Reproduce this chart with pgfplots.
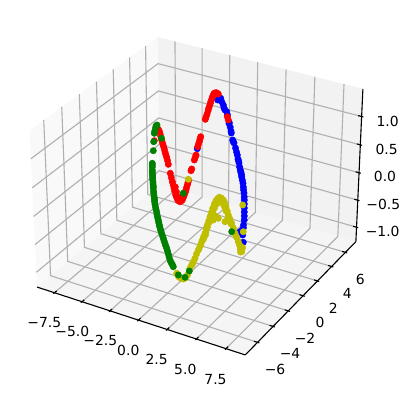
\documentclass[border=0pt]{standalone}
\usepackage{pgfplots}
\pgfplotsset{compat=1.18}
\usepackage{fontspec}
\setmainfont{DejaVu Sans}
\definecolor{gridc}{rgb}{0.69,0.69,0.69}
\definecolor{paneL}{HTML}{F9F9F9}
\definecolor{paneB}{HTML}{F2F2F2}
\definecolor{paneF}{HTML}{F5F5F5}
\definecolor{cR}{HTML}{FF0000}
\definecolor{cG}{HTML}{008000}
\definecolor{cB}{HTML}{0000FF}
\definecolor{cY}{HTML}{BFBF00}
\newcommand{\seg}[2]{\addplot[#1] table[row sep=\\,x expr={prjx(\thisrow{X},\thisrow{Y},\thisrow{Z})},y expr={prjy(\thisrow{X},\thisrow{Y},\thisrow{Z})}] {X Y Z\\ #2\\};}
\newcommand{\tl}[3]{\node[font=\fontsize{13.9}{16}\selectfont,text=black,inner sep=0pt,anchor=center] at (axis cs:#1,#2) {#3};}
\begin{document}
\begin{tikzpicture}[declare function={
ux(\x)=0.5952*\x/9.1;
uy(\y)=0.5952*\y/7.55;
uz(\z)=0.4464*(\z-0.105)/1.375;
prjd(\x,\y,\z)=10-(0.433*ux(\x)-0.75*uy(\y)+0.5*uz(\z));
prjx(\x,\y,\z)=199.4+2004*(0.866*ux(\x)+0.5*uy(\y))/prjd(\x,\y,\z);
prjy(\x,\y,\z)=188.3-2000*(-0.25*ux(\x)+0.433*uy(\y)+0.866*uz(\z))/prjd(\x,\y,\z);
}]
\useasboundingbox (0,0) rectangle (410pt,396pt);
\begin{axis}[at={(0,0)},anchor=south west,scale only axis,width=410pt,height=396pt,
 xmin=0,xmax=410,ymin=0,ymax=396,y dir=reverse,axis lines=none,clip=false]
% panes
\seg{fill=paneL,draw=none}{-9.1 -7.55 -1.27\\ -9.1 7.55 -1.27\\ -9.1 7.55 1.48\\ -9.1 -7.55 1.48}
\seg{fill=paneB,draw=none}{-9.1 7.55 -1.27\\ 9.1 7.55 -1.27\\ 9.1 7.55 1.48\\ -9.1 7.55 1.48}
\seg{fill=paneF,draw=none}{-9.1 -7.55 -1.27\\ 9.1 -7.55 -1.27\\ 9.1 7.55 -1.27\\ -9.1 7.55 -1.27}
% grid
\pgfplotsinvokeforeach{-7.5,-5,-2.5,0,2.5,5,7.5}{
 \seg{gridc,line width=1.11pt}{#1 -7.55 -1.27\\ #1 7.55 -1.27\\ #1 7.55 1.48}
}
\pgfplotsinvokeforeach{-6,-4,-2,0,2,4,6}{
 \seg{gridc,line width=1.11pt}{9.1 #1 -1.27\\ -9.1 #1 -1.27\\ -9.1 #1 1.48}
}
\pgfplotsinvokeforeach{-1,-0.5,0,0.5,1}{
 \seg{gridc,line width=1.11pt}{-9.1 -7.55 #1\\ -9.1 7.55 #1\\ 9.1 7.55 #1}
}
% axis lines
\seg{black,line width=1.11pt}{-9.1 -7.55 -1.27\\ 9.1 -7.55 -1.27}
\seg{black,line width=1.11pt}{9.1 -7.55 -1.27\\ 9.1 7.55 -1.27}
\seg{black,line width=1.11pt}{9.1 7.55 -1.27\\ 9.1 7.55 1.48}
% ticks
\pgfplotsinvokeforeach{-7.5,-5,-2.5,0,2.5,5,7.5}{
 \seg{black,line width=1.11pt}{#1 -7.3 -1.27\\ #1 -7.68 -1.27}
}
\pgfplotsinvokeforeach{-6,-4,-2,0,2,4,6}{
 \seg{black,line width=1.11pt}{8.8 #1 -1.27\\ 9.25 #1 -1.27}
}
\pgfplotsinvokeforeach{-1,-0.5,0,0.5,1}{
 \seg{black,line width=1.11pt}{8.8 7.55 #1\\ 9.25 7.55 #1}
}
% blue
\addplot[only marks,mark=*,mark size=3.2pt,cB,mark options={draw=cB,fill=cB}] coordinates {
(217.7,100)(219.5,100)(220.7,98.3)(221.7,101.7)(223.3,105)(224,108)(225,110)(226.7,111.7)(227.5,115)(229,123.3)(229.3,122.7)(230.2,127)(231,131)(231.3,133)(233.3,141.7)(234,143)(232.7,140)(235.5,148)(236.5,152)(237.3,155)(238,159)(239,163)(238.6,161)(239.6,167)(240.3,170)(240.9,172)(241,173)(241.7,177)(242.3,180)(241.6,175)(243,183.3)(243.3,187)(243.6,190)(244,193)(244.2,197)(244.3,200)(244.3,204)(244.3,208)(244.3,212)(244.3,216)(244.2,220)(243.5,225)(243.3,228)(239.3,232.3)(241,231)(242.7,235)(243.3,242.3)
(197.3,148.7)
};
% red
\addplot[only marks,mark=*,mark size=3.2pt,cR,mark options={draw=cR,fill=cR}] coordinates {
(218.3,94)(217,93)(216,92.7)(214.7,93)(213.7,94)(212.8,96)(212,98.3)(211,101)(210.3,103.3)(209.5,106)(208.7,108.3)(208,111)(207,114.3)(206,117)(205.3,119.3)
(227.3,116.7)(228.3,120)
(200.7,136.7)(200,139)(199.3,141.7)(198.5,144)(197.7,146.7)
(196,155)(195.2,157.5)(194.3,160)(191.7,169)(191,170.7)
(188.7,180)(188,182.5)(187.3,185)(186.6,187.5)(186,190)(185.2,192.5)(184.3,195)(183.3,197.5)(182.3,200)(181,201.2)(180,201.7)(178.8,201)(177.7,200)(176.7,197.5)(175.7,195)(174.8,191.5)(174,188.3)(173.2,185)(172.3,181.7)(171.3,177.5)(170.3,173.3)
(178.5,197)(176.5,192)(175.3,187)(180.5,199)(182.5,197)(184,193)
(168.3,164.3)(167.5,160.5)(166.7,157.3)(165.8,154.5)(165,151.7)(164.2,148.7)(163.3,145.7)(162.5,143)(161.7,140)(160.8,136.5)(160,133.3)(159.2,131)(158.3,129.3)
(154.3,140.7)
};
% yellow
\addplot[only marks,mark=*,mark size=3.2pt,cY,mark options={draw=cY,fill=cY}] coordinates {
(176.7,273.3)(178,275.5)(179,277)(181,278.5)(183.3,279)(185.5,278)(187.5,275)(189.5,270)(191.7,265)(193.5,261.5)(195,258.3)(196.5,254)(198.3,250)(200,246)(201.7,241.7)(203.5,237)(205,233.3)(204,236.7)(206.2,229)(207.3,225)(208.7,221)(210,216.7)(211.3,212.5)(212.7,208.3)(214.3,204)(216,200.7)(217.7,198.5)(219.3,197.3)(221.3,198)(223.3,200)(224.7,203)(226,206.7)(227.2,211)(228.3,215)(230,219)(231.7,223.3)(233.3,228)(235,233.3)(236.7,237.5)(238.3,241.7)(239.5,245)(240.7,248.3)(241.2,250)(241.7,251.7)(240.5,249.5)(242,249)(240,246)(242.5,247.5)(240.5,252)
(219,201)(216.5,204)(222,203)(214.5,208)(224.5,207)(212.8,212)(226,211)(211,217)(209.5,222)(207.5,227)(206,232)(202.5,240)(200.8,245)(199,249)(203.5,239)(205.5,235)(192.5,264)(190,268)
(218.3,218.3)(225,221.7)(213.3,220)(215.5,216)(228,218)(231,224)(233.5,230)(236,236)
(188.3,179.3)(242.7,205)(243.3,231.7)
};
% green
\addplot[only marks,mark=*,mark size=3.2pt,cG,mark options={draw=cG,fill=cG}] coordinates {
(157,125)(156,126)(155.5,128)(154.8,131)(154.3,133.3)(153.7,141.7)(153.3,150.7)(152.3,163.3)(152.3,165)(152.3,167)(152.3,170)(152.3,172)(152.5,174)(152.5,176)(152.7,178)(152.7,180)(153,182)(153,184)(153.3,186)(153.3,188)(153.5,191)(153.7,193.3)(154,196)(154.3,198)(154.6,200)(154.6,202)(155,204.5)(155.5,207)(156,209.5)(156.7,212)(157,214.5)(157.5,217)(158,219)(158.5,221)(158.9,223)(159.3,225)(159.8,227)(160.3,229)(160.9,231)(161.5,233)(162.4,235.7)(163.3,238.3)(164.1,240.9)(165,243.5)(165.8,246)(166.7,248.3)(167.5,251)(168.3,254)(169.1,257)(170,260)(170.8,262)(171.7,263.5)(172.5,265)(173.3,266.7)
(178.3,275)(185,277.3)(189.3,271)
(161.5,138.3)(183.3,193.3)(231.7,231.7)
};
% tick labels
\tl{44.3}{322.7}{−7.5}\tl{72.3}{331.3}{−5.0}\tl{100.3}{340}{−2.5}\tl{128.3}{350.3}{0.0}\tl{156.7}{359.3}{2.5}\tl{185.3}{369.3}{5.0}\tl{215.5}{379.3}{7.5}
\tl{275}{369}{−6}\tl{290}{353.3}{−4}\tl{305}{338.3}{−2}\tl{320}{322.3}{0}\tl{333.3}{308.3}{2}\tl{347.3}{293.7}{4}\tl{360.3}{279}{6}
\tl{387.7}{121}{1.0}\tl{386.7}{149}{0.5}\tl{385}{176}{0.0}\tl{383.3}{204}{−0.5}\tl{382.7}{231}{−1.0}
\end{axis}
\end{tikzpicture}
\end{document}
